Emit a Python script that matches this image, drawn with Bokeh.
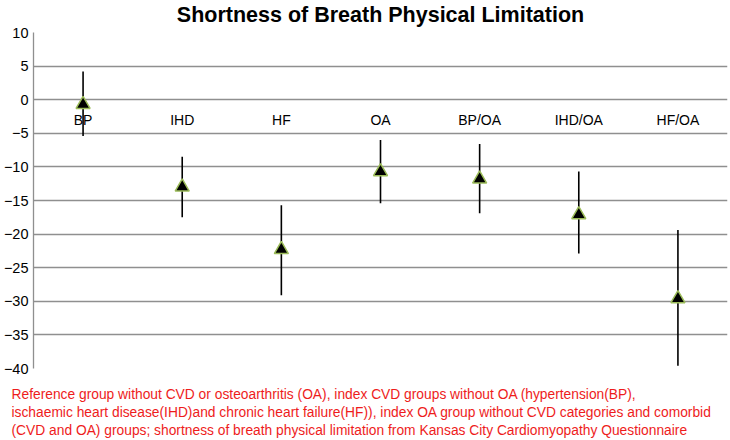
from bokeh.plotting import figure
from bokeh.models import FixedTicker, Title, ColumnDataSource
from bokeh.core.properties import value
from bokeh.embed import file_html
from bokeh.resources import INLINE

categories = ["BP", "IHD", "HF", "OA", "BP/OA", "IHD/OA", "HF/OA"]
means = [-0.7, -13.0, -22.3, -10.7, -11.8, -17.1, -29.6]
lower = [-5.4, -17.5, -29.1, -15.4, -16.9, -22.9, -39.6]
upper = [4.2, -8.5, -15.7, -6.0, -6.6, -10.7, -19.4]
y_ticks = [-40, -35, -30, -25, -20, -15, -10, -5, 0, 5, 10]
title_text = "Shortness of Breath Physical Limitation"
footer_lines = [
    "Reference group without CVD or osteoarthritis (OA), index CVD groups without OA (hypertension(BP),",
    "ischaemic heart disease(IHD)and chronic heart failure(HF)), index OA group without CVD categories and comorbid",
    "(CVD and OA) groups; shortness of breath physical limitation from Kansas City Cardiomyopathy Questionnaire",
]

FONT = "Liberation Sans"
GRID = "#8f8f8f"
RED = "#ee1c1c"

src = ColumnDataSource(dict(cat=categories, mean=means, lo=lower, hi=upper,
                            zero=[0] * len(categories)))

p = figure(width=728, height=438, x_range=categories, y_range=(y_ticks[0], y_ticks[-1]),
           output_backend="svg", toolbar_location=None, x_axis_location=None,
           min_border_left=0, min_border_right=1, min_border_top=0, min_border_bottom=70)

p.title.text = title_text
p.title.align = "center"
p.title.text_font = FONT
p.title.text_font_size = "21.5px"
p.title.text_font_style = "bold"
p.title.text_color = "black"
p.title.standoff = 0
p.title.offset = 0

# thin spacer between the title and the plot frame
p.add_layout(Title(text=" ", text_font_size="2px", standoff=2), "above")

p.outline_line_color = None
p.xgrid.grid_line_color = None
p.ygrid.grid_line_color = GRID
p.ygrid.grid_line_width = 1.3
p.yaxis.ticker = FixedTicker(ticks=y_ticks)
p.yaxis.major_tick_line_color = None
p.yaxis.major_tick_out = 0
p.yaxis.major_tick_in = 0
p.yaxis.minor_tick_line_color = None
p.yaxis.axis_line_color = GRID
p.yaxis.axis_line_width = 1.3
p.yaxis.major_label_text_font = FONT
p.yaxis.major_label_text_font_size = "14.5px"
p.yaxis.major_label_text_color = "black"
p.yaxis.major_label_standoff = 5

p.text(x="cat", y="zero", text="cat", source=src, text_align="center",
       text_baseline="middle", y_offset=20, text_font=value(FONT),
       text_font_size="14px", text_color="black")

p.segment(x0="cat", y0="lo", x1="cat", y1="hi", source=src, line_color="black",
          line_width=1.6)
p.scatter(x="cat", y="mean", source=src, marker="triangle", size=14,
          fill_color="black", line_color="#9bbb59", line_width=1.5)

# spacer below the frame, then the three caption lines
p.add_layout(Title(text=" ", text_font_size="2px", standoff=12), "below")
for line in footer_lines:
    t = Title(text=line, align="left", text_font=FONT, text_font_size="13.8px",
              text_font_style="normal", text_color=RED, offset=-22, standoff=1)
    p.add_layout(t, "below")

open("out.html", "w").write(file_html(p, INLINE))
